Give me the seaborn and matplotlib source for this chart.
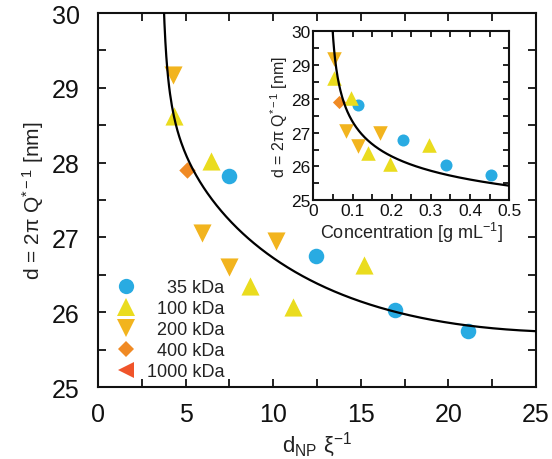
import matplotlib
matplotlib.use("Agg")
import matplotlib.pyplot as plt
import numpy as np
import pandas as pd
import seaborn as sns
from matplotlib.lines import Line2D
from matplotlib.ticker import MultipleLocator

# ---- data ----
labels = ["35 kDa", "100 kDa", "200 kDa", "400 kDa", "1000 kDa"]
markers = ["o", "^", "v", "D", "<"]
colors = ["#29ABE2", "#EADC1E", "#F2B41E", "#F08A24", "#F0542A"]

# main panel: d_NP / xi vs d
main_x = {
    "35 kDa": [7.48, 12.44, 16.95, 21.1],
    "100 kDa": [4.34, 6.45, 8.68, 11.13, 15.18],
    "200 kDa": [4.28, 5.94, 7.48, 10.16],
    "400 kDa": [5.08],
    "1000 kDa": [],
}
main_y = {
    "35 kDa": [27.82, 26.75, 26.03, 25.75],
    "100 kDa": [28.62, 28.02, 26.35, 26.07, 26.63],
    "200 kDa": [29.17, 27.06, 26.6, 26.95],
    "400 kDa": [27.9],
    "1000 kDa": [],
}

# inset: concentration vs d
inset_c = {
    "35 kDa": [0.113, 0.228, 0.339, 0.453],
    "100 kDa": [0.054, 0.096, 0.140, 0.195, 0.295],
    "200 kDa": [0.054, 0.083, 0.113, 0.170],
    "400 kDa": [0.066],
    "1000 kDa": [],
}
inset_d = {
    "35 kDa": [27.82, 26.77, 26.04, 25.76],
    "100 kDa": [28.62, 28.04, 26.39, 26.08, 26.63],
    "200 kDa": [29.18, 27.05, 26.6, 27.0],
    "400 kDa": [27.9],
    "1000 kDa": [],
}

# points
fit_main_x = [3.79, 3.82, 4.01, 4.30, 4.68, 5.15, 6.2, 7.15, 9.25, 9.82, 14.38, 17.24, 21.04, 24.85]
fit_main_y = [29.97, 29.61, 29.16, 28.72, 28.27, 27.96, 27.65, 27.38, 26.84, 26.73, 26.19, 26.0, 25.82, 25.75]
fit_main_x0 = 3.6
fit_inset_x = [0.0494, 0.0553, 0.068, 0.085, 0.128, 0.221, 0.306, 0.391, 0.493]
fit_inset_y = [30.0, 29.23, 28.24, 27.65, 27.0, 26.2, 25.78, 25.58, 25.51]
fit_inset_x0 = 0.04

sns.set_style("ticks")
plt.rcParams["font.family"] = ["Liberation Sans", "DejaVu Sans"]
plt.rcParams["mathtext.fontset"] = "custom"
plt.rcParams["mathtext.rm"] = "Liberation Sans"
plt.rcParams["mathtext.it"] = "Liberation Sans:italic"
plt.rcParams["text.color"] = "#222222"
plt.rcParams["axes.labelcolor"] = "#222222"
plt.rcParams["xtick.color"] = "#111111"
plt.rcParams["ytick.color"] = "#111111"


def fitted_curve(xs, ys, x0, x_start, x_end, deg, n=400):
    # polynomial in log(x - x0), fitted to the traced points
    t = np.log(np.asarray(xs) - x0)
    coef = np.polyfit(t, ys, deg)
    grid = np.linspace(x_start, x_end, n)
    return grid, np.polyval(coef, np.log(grid - x0))


def style_axes(ax, xmaj, xmin, ymaj, ymin, size, tl):
    ax.xaxis.set_major_locator(MultipleLocator(xmaj))
    ax.xaxis.set_minor_locator(MultipleLocator(xmin))
    ax.yaxis.set_major_locator(MultipleLocator(ymaj))
    ax.yaxis.set_minor_locator(MultipleLocator(ymin))
    ax.tick_params(which="both", direction="in", top=True, right=True,
                   length=tl, width=1.3, labelsize=size)
    for s in ax.spines.values():
        s.set_linewidth(1.5)
        s.set_color("#111111")


fig = plt.figure(figsize=(5.52, 4.6), dpi=100)
ax = fig.add_axes([0.1775, 0.1565, 0.7935, 0.813])

gx, gy = fitted_curve(fit_main_x, fit_main_y, fit_main_x0, 3.74, 25, 5)
sns.lineplot(x=gx, y=gy, color="black", linewidth=1.6, sort=False,
             estimator=None, ax=ax, zorder=4)

main_sizes = {"o": 125, "^": 170, "v": 170, "D": 70, "<": 150}
for lab, m, c in zip(labels, markers, colors):
    if len(main_x[lab]) == 0:
        continue
    df = pd.DataFrame({"x": main_x[lab], "y": main_y[lab]})
    sns.scatterplot(data=df, x="x", y="y", marker=m, color=c,
                    s=main_sizes[m], linewidth=0, ax=ax, zorder=3)

ax.set_xlim(0, 25)
ax.set_ylim(25, 30)
style_axes(ax, 5, 2.5, 1, 0.5, 18, 6)
ax.tick_params(axis="x", pad=11)
ax.tick_params(axis="y", pad=13)
ax.set_xlabel(r"d$_{\mathregular{NP}}$ ξ$^{\mathregular{-1}}$", fontsize=16, labelpad=3)
ax.set_ylabel(r"d = 2π Q$^{\mathregular{*-1}}$ [nm]", fontsize=15, labelpad=4)

# legend with right aligned labels (figure spaces pad the short numbers)
fs = "\u2007"
leg_labels = [fs * 2 + "35 kDa", fs + "100 kDa", fs + "200 kDa", fs + "400 kDa", "1000 kDa"]
leg_ms = {"o": 11, "^": 13, "v": 13, "D": 8.5, "<": 12}
handles = [Line2D([], [], linestyle="none", marker=m, color=c,
                  markersize=leg_ms[m], markeredgewidth=0)
           for m, c in zip(markers, colors)]
ax.legend(handles, leg_labels, loc="lower left", bbox_to_anchor=(0.015, -0.01),
          frameon=False, fontsize=13, handlelength=1.2, handletextpad=0.55,
          labelspacing=0.22, borderpad=0.4, borderaxespad=0.2)

# ---- inset ----
ins = fig.add_axes([0.5676, 0.5624, 0.355, 0.3674])
ix, iy = fitted_curve(fit_inset_x, fit_inset_y, fit_inset_x0, 0.0485, 0.5, 3)
sns.lineplot(x=ix, y=iy, color="black", linewidth=1.6, sort=False,
             estimator=None, ax=ins, zorder=4)
inset_sizes = {"o": 75, "^": 110, "v": 110, "D": 45, "<": 95}
for lab, m, c in zip(labels, markers, colors):
    if len(inset_c[lab]) == 0:
        continue
    df = pd.DataFrame({"c": inset_c[lab], "d": inset_d[lab]})
    sns.scatterplot(data=df, x="c", y="d", marker=m, color=c,
                    s=inset_sizes[m], linewidth=0, ax=ins, zorder=3)
ins.set_xlim(0, 0.5)
ins.set_ylim(25, 30)
style_axes(ins, 0.1, 0.05, 1, 0.5, 12.5, 4)
ins.tick_params(axis="x", pad=2)
ins.tick_params(axis="y", pad=2)
ins.set_xticks([0, 0.1, 0.2, 0.3, 0.4, 0.5])
ins.set_xticklabels(["0", "0.1", "0.2", "0.3", "0.4", "0.5"])
ins.set_xlabel(r"Concentration [g mL$^{\mathregular{-1}}$]", fontsize=13, labelpad=1)
ins.set_ylabel(r"d = 2π Q$^{\mathregular{*-1}}$ [nm]", fontsize=11.5, labelpad=1)

fig.savefig("out.png", dpi=100)
